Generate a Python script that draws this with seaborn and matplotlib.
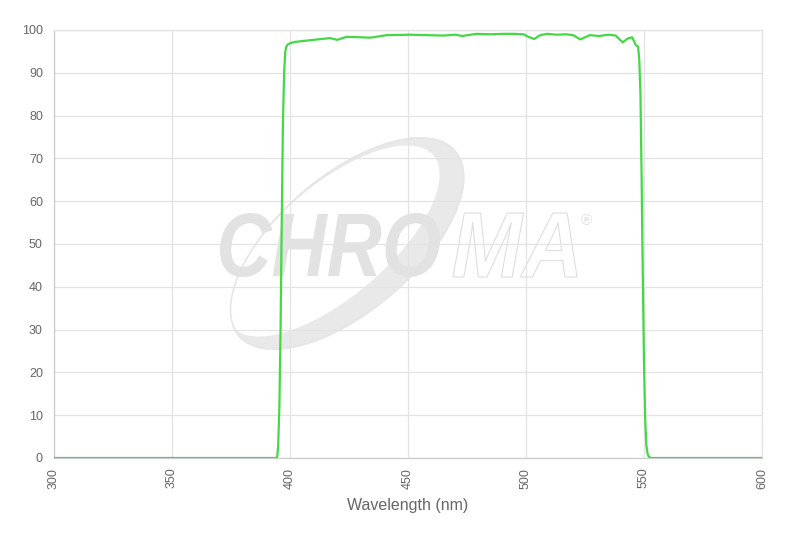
import matplotlib
matplotlib.use("Agg")
import matplotlib.pyplot as plt
import seaborn as sns
import pandas as pd
from matplotlib.patches import Ellipse, PathPatch
from matplotlib.textpath import TextPath
from matplotlib.font_manager import FontProperties
from matplotlib.transforms import IdentityTransform, Affine2D

# Transmission spectrum
wavelength = [300, 394, 394.6, 395, 395.5, 396, 396.5, 397, 397.5, 398, 398.5,
              399, 400, 402, 405, 410, 415, 417, 420, 424, 430, 434, 441, 451,
              458, 465, 470, 473, 479, 485, 490, 495, 499, 501, 503.5, 506,
              509, 513, 517, 520, 523, 527, 531, 535, 538, 541, 543, 545,
              546.5, 547.5, 548, 548.5, 549, 549.5, 550, 550.5, 551, 551.5,
              552, 553, 600]
transmission = [0, 0, 0.3, 3, 12, 30, 55, 78, 90, 95, 96.2,
                96.6, 96.9, 97.2, 97.4, 97.7, 98.0, 98.1, 97.7, 98.4, 98.3, 98.2, 98.8, 98.9,
                98.8, 98.7, 98.9, 98.6, 99.1, 99.0, 99.1, 99.1, 99.0, 98.4, 97.9, 98.8,
                99.1, 98.9, 99.0, 98.8, 97.8, 98.8, 98.6, 98.9, 98.7, 97.1, 98.0, 98.3,
                96.5, 96.1, 93, 85, 65, 42, 22, 9, 3, 1,
                0.3, 0, 0]

x_ticks = [300, 350, 400, 450, 500, 550, 600]
y_ticks = [0, 10, 20, 30, 40, 50, 60, 70, 80, 90, 100]

df = pd.DataFrame({"wavelength": wavelength, "transmission": transmission})

sns.set_style("white")
plt.rcParams["font.family"] = ["Liberation Sans", "DejaVu Sans"]

W, H = 793, 537
fig = plt.figure(figsize=(W / 100, H / 100), dpi=100)
ax = fig.add_axes([54 / W, 1 - 458 / H, (762 - 54) / W, (458 - 30) / H])

grid_col = "#e3e3e3"
text_col = "#666666"
mark_col = "#e2e2e2"


def fit_text(s, x0, x1, y_top, y_bot, **kw):
    # text path stretched into a pixel box (y measured from the top of the image)
    prop = FontProperties(family="Liberation Sans", weight="bold", style="italic")
    tp = TextPath((0, 0), s, size=1, prop=prop)
    ext = tp.get_extents()
    tr = (Affine2D().translate(-ext.x0, -ext.y0)
          .scale((x1 - x0) / ext.width, (y_bot - y_top) / ext.height)
          .translate(x0, H - y_bot))
    patch = PathPatch(tr.transform_path(tp), transform=IdentityTransform(), **kw)
    ax.add_patch(patch)


# faint watermark behind the plot (crescent swoosh + logo text)
ax.add_patch(Ellipse((347, H - 243.5), 286, 137, angle=40.5,
                     transform=IdentityTransform(), facecolor="#e9e9e9",
                     edgecolor="none", zorder=0.1))
ax.add_patch(Ellipse((333, H - 241), 264, 111, angle=40.5,
                     transform=IdentityTransform(), facecolor="white",
                     edgecolor="none", zorder=0.2))
ax.add_patch(Ellipse((347, H - 243.5), 284, 135, angle=40.5,
                     transform=IdentityTransform(), facecolor="none",
                     edgecolor="#e6e6e6", linewidth=1.2, zorder=0.25))
fit_text("CHRO", 220, 440, 213, 277, facecolor=mark_col, edgecolor="none", zorder=0.3)
fit_text("MA", 453, 577, 213, 277, facecolor="white", edgecolor="#dedede",
         linewidth=0.8, zorder=0.3)
ax.text(586, H - 221, "®", transform=IdentityTransform(), ha="center", va="center",
        fontsize=11, color="#e2e2e2", zorder=0.3)

sns.lineplot(data=df, x="wavelength", y="transmission", ax=ax,
             color="#44d844", linewidth=1.6, zorder=3)

ax.set_xlim(300, 600)
ax.set_ylim(0, 100)
ax.set_xticks(x_ticks)
ax.set_yticks(y_ticks)
ax.set_axisbelow(True)
ax.grid(True, color=grid_col, linewidth=0.9)
for s in ax.spines.values():
    s.set_color(grid_col)
    s.set_linewidth(0.9)
ax.spines["left"].set_color("#cccccc")
ax.spines["bottom"].set_color("#cccccc")
ax.tick_params(axis="both", which="both", width=0.9, color=grid_col,
               labelcolor=text_col, labelsize=9)
ax.tick_params(axis="x", labelrotation=90, length=4, pad=3)
ax.tick_params(axis="y", length=5, pad=3)
ax.set_xlabel("Wavelength (nm)", fontsize=11.5, color=text_col, labelpad=7)
ax.set_ylabel("")

fig.savefig("out.png", dpi=100)
